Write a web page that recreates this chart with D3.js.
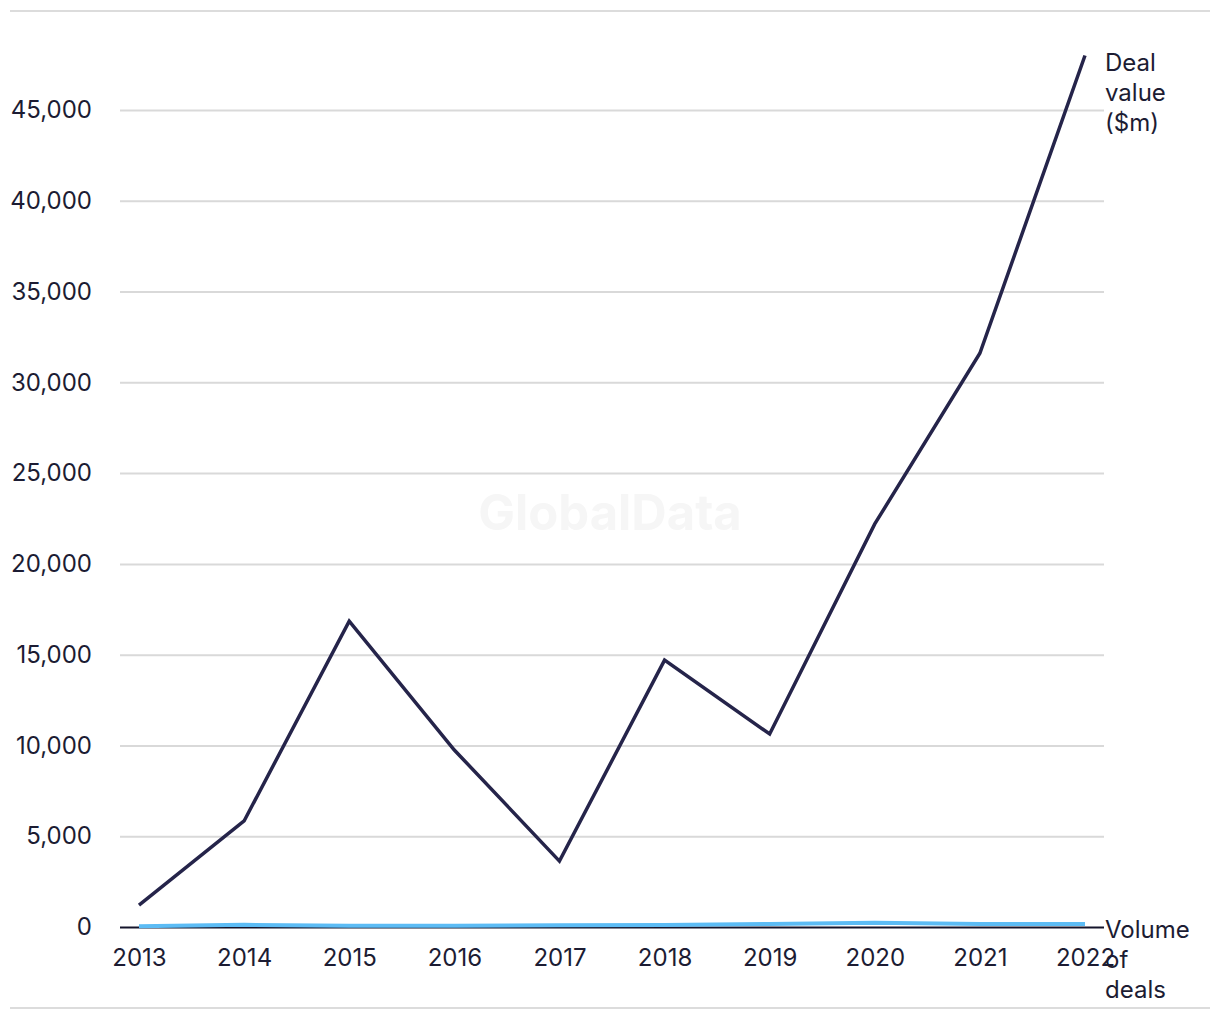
<!DOCTYPE html>
<html><head><meta charset="utf-8">
<script src="https://cdn.jsdelivr.net/npm/d3@7"></script>
<style>body{margin:0;background:#fff}svg{display:block}</style>
</head><body>
<svg id="c" width="1220" height="1020"></svg>
<script>
const years = ["2013","2014","2015","2016","2017","2018","2019","2020","2021","2022"];
const dealValue = [1210, 5840, 16850, 9750, 3630, 14700, 10630, 22200, 31600, 48000];
const dealVolume = [40, 120, 70, 70, 100, 110, 170, 240, 160, 160];
const yTicks = [0, 5000, 10000, 15000, 20000, 25000, 30000, 35000, 40000, 45000];
const seriesLabels = [["Deal","value","($m)"],["Volume","of","deals"]];

const svg = d3.select("#c");
const font = "Inter, 'Liberation Sans', sans-serif";
const txt = "#1c1c33";

svg.append("line").attr("x1",10).attr("x2",1210).attr("y1",11).attr("y2",11).attr("stroke","#dcdcdc").attr("stroke-width",2);
svg.append("line").attr("x1",10).attr("x2",1210).attr("y1",1008).attr("y2",1008).attr("stroke","#dcdcdc").attr("stroke-width",2);

const x = d3.scalePoint().domain(years).range([139, 1085]);
const y = d3.scaleLinear().domain([0, 45000]).range([927, 110]);

svg.append("text").attr("x",610).attr("y",530).attr("text-anchor","middle")
  .attr("font-family",font).attr("font-weight",700).attr("font-size",49).attr("fill","#f6f6f6").text("GlobalData");

const yAxis = svg.append("g").attr("transform","translate(120,0)")
  .call(d3.axisLeft(y).tickValues(yTicks).tickSize(-984).tickPadding(28).tickFormat(d3.format(",")));
yAxis.select(".domain").remove();
yAxis.selectAll(".tick line").attr("stroke", d => d === 0 ? "#14142b" : "#d9d9d9").attr("stroke-width", 2);
yAxis.selectAll(".tick text").attr("font-family",font).attr("font-size",24).attr("fill",txt);

const xAxis = svg.append("g").attr("transform","translate(0,927)")
  .call(d3.axisBottom(x).tickSize(0).tickPadding(22));
xAxis.select(".domain").remove();
xAxis.selectAll(".tick text").attr("font-family",font).attr("font-size",24).attr("fill",txt);

const line = d3.line().x((d,i)=>x(years[i])).y(d=>y(d));
svg.append("path").datum(dealVolume).attr("d",line).attr("fill","none").attr("stroke","#5cbcf5").attr("stroke-width",4);
svg.append("path").datum(dealValue).attr("d",line).attr("fill","none").attr("stroke","#25244a").attr("stroke-width",3.5);

const ends = [dealValue[dealValue.length-1], dealVolume[dealVolume.length-1]];
seriesLabels.forEach((lines,k)=>{
  const t = svg.append("text").attr("font-family",font).attr("font-size",24).attr("fill",txt);
  const y0 = k===0 ? y(ends[0]) + 15 : y(0) + 11;
  lines.forEach((s,j)=>t.append("tspan").attr("x",1105).attr("y",y0 + j*30).text(s));
});
</script>
</body></html>
